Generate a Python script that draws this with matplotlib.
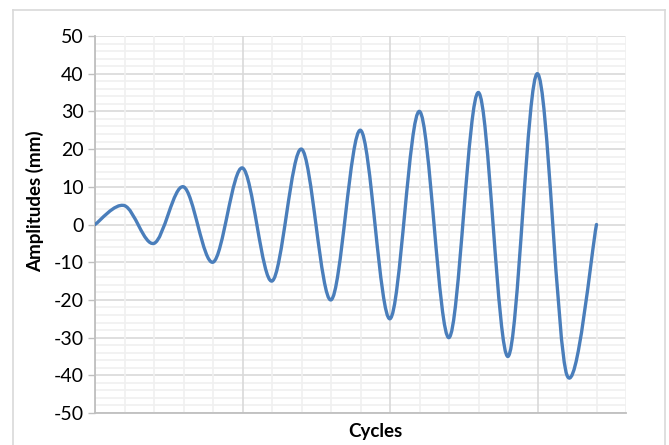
import numpy as np
import matplotlib.pyplot as plt
from matplotlib.path import Path
from matplotlib.patches import PathPatch
from matplotlib.ticker import MultipleLocator
from matplotlib.lines import Line2D

plt.rcParams['font.family'] = ['Lato', 'DejaVu Sans']
plt.rcParams['axes.unicode_minus'] = False

# data (one point per quarter cycle)
cycles = [0, 1, 2, 3, 4, 5, 6, 7, 8, 9, 10, 11, 12, 13, 14, 15, 16, 17]
amplitudes = [0, 5, -5, 10, -10, 15, -15, 20, -20, 25, -25, 30, -30, 35, -35, 40, -40, 0]

LINE_COLOR = '#4A7EBB'
MAJOR_GRID = '#D9D9D9'
MINOR_GRID = '#F0F0F0'

fig = plt.figure(figsize=(6.69, 4.45), dpi=100)
ax = fig.add_axes([95 / 669, 1 - 413 / 445, 531 / 669, 377 / 445])

# Excel-like smoothed line: cubic bezier segments through the points
x = np.array(cycles, dtype=float)
y = np.array(amplitudes, dtype=float)
n = len(x)
verts = [(x[0], y[0])]
codes = [Path.MOVETO]
for i in range(n - 1):
    p0 = np.array([x[max(i - 1, 0)], y[max(i - 1, 0)]])
    p1 = np.array([x[i], y[i]])
    p2 = np.array([x[i + 1], y[i + 1]])
    p3 = np.array([x[min(i + 2, n - 1)], y[min(i + 2, n - 1)]])
    c1 = p1 + (p2 - p0) / 6
    c2 = p2 - (p3 - p1) / 6
    verts += [tuple(c1), tuple(c2), tuple(p2)]
    codes += [Path.CURVE4] * 3
ax.add_patch(PathPatch(Path(verts, codes), fill=False, edgecolor=LINE_COLOR,
                       linewidth=2.4, capstyle='round', joinstyle='round', zorder=3))

ax.set_xlim(0, 18)
ax.set_ylim(-50, 50)

ax.yaxis.set_major_locator(MultipleLocator(10))
ax.yaxis.set_minor_locator(MultipleLocator(2))
ax.xaxis.set_major_locator(MultipleLocator(5))
ax.xaxis.set_minor_locator(MultipleLocator(1))

ax.grid(which='minor', color=MINOR_GRID, linewidth=1.2)
ax.grid(which='major', color=MAJOR_GRID, linewidth=1.2)
ax.set_axisbelow(True)
# vertical grid on top of the light horizontal minor grid
ax.xaxis.set_zorder(0.6)

ax.tick_params(axis='x', which='both', length=0, labelbottom=False)
ax.tick_params(axis='y', which='major', length=5, width=1, color='#BFBFBF',
               labelsize=14, pad=3, labelcolor='#000000')
ax.tick_params(axis='y', which='minor', length=0)

for side in ['top', 'right']:
    ax.spines[side].set_visible(False)
for side in ['left', 'bottom']:
    ax.spines[side].set_color('#BFBFBF')
    ax.spines[side].set_linewidth(1.3)

# axis titles
fig.text(35 / 669, 1 - 201 / 445, 'Amplitudes (mm)', rotation=90, fontsize=13.5,
         fontweight='bold', ha='center', va='center')
fig.text(375 / 669, 1 - 432 / 445, 'Cycles', fontsize=13.5, fontweight='bold',
         ha='center', va='center')

# chart area border
bx0, bx1, by0 = 13 / 669, 665 / 669, 1 - 10 / 445
for xs, ys in [([bx0, bx0], [0, by0]), ([bx0, bx1], [by0, by0]), ([bx1, bx1], [by0, 0])]:
    fig.add_artist(Line2D(xs, ys, transform=fig.transFigure, color='#D9D9D9', linewidth=1.2))

fig.savefig('out.png', dpi=100)
